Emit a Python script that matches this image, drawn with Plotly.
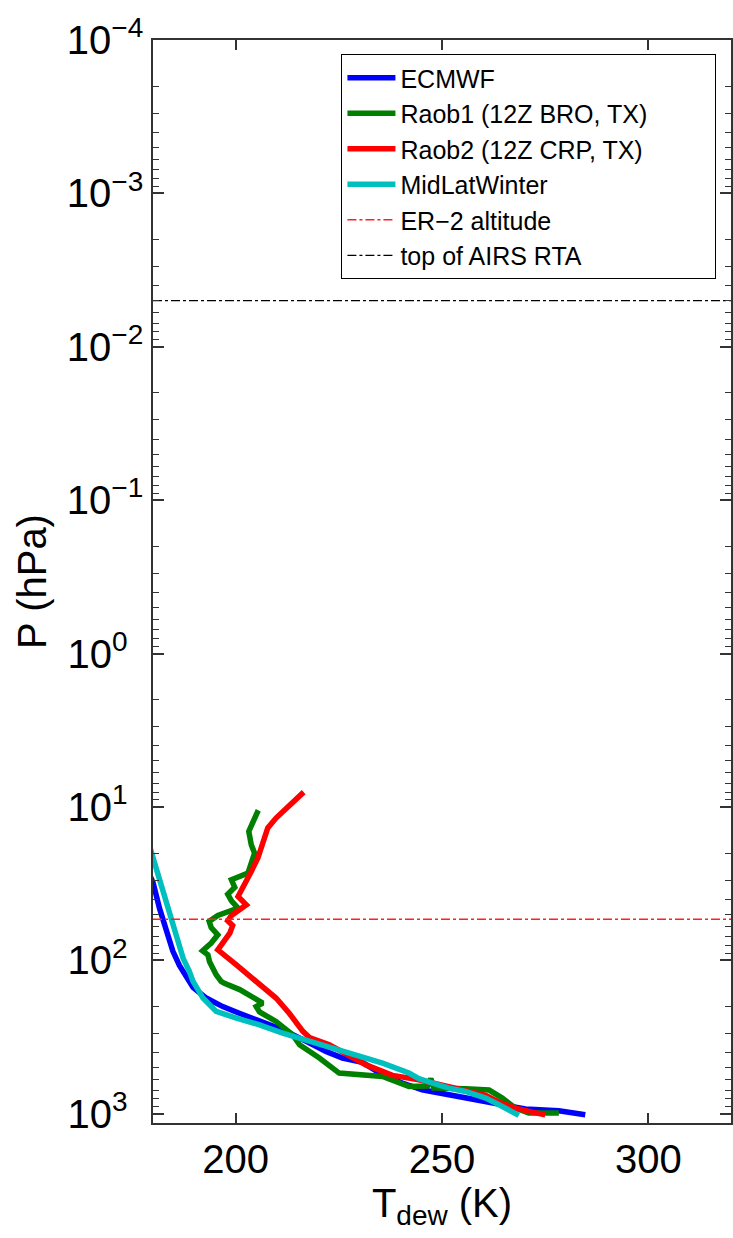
import plotly.graph_objects as go

# ---------------- data ----------------
ecmwf_T = [179.0, 180.0, 181.6, 183.2, 184.8, 186.4, 187.3, 189.7, 192.9, 196.9, 200.9, 205.8, 211.4,
           217.1, 221.9, 225.9, 230.7, 235.6, 240.4, 245.2, 250.1, 255.7, 260.6, 265.4, 270.2, 278.3, 284.7]
ecmwf_P = [27, 31, 46, 63, 87, 108, 118, 150, 176, 200, 221, 250, 283,
           337, 392, 433, 462, 556, 630, 697, 740, 790, 830, 895, 931, 955, 1013]

raob1_T = [205.5, 204.6, 203.2, 203.8, 204.6, 203.0, 199.0, 199.8, 198.1, 199.0, 200.6, 195.7, 193.6,
           194.1, 195.7, 194.1, 192.0, 193.3, 193.7, 195.3, 196.5, 197.3, 201.0, 203.4, 206.6, 205.0,
           205.8, 209.8, 213.8, 215.5, 220.3, 225.1, 235.6, 242.0, 246.5, 247.3, 248.0, 255.7, 261.4,
           264.6, 267.8, 271.0, 278.3]
raob1_P = [10.5, 11.8, 14.4, 17.6, 20.0, 27.0, 29.8, 33.4, 37.0, 40.9, 45.6, 50.9, 55.7,
           61.0, 68.1, 77.1, 86.5, 92, 102, 124, 137, 141, 155, 169, 190, 200,
           217, 250, 305, 355, 433, 543, 571, 663, 660, 590, 680, 687, 700,
           790, 918, 989, 989]

raob2_T = [216.5, 209.8, 207.8, 206.6, 205.4, 203.8, 202.6, 201.4, 200.6, 202.6, 200.2, 199.0, 198.1,
           199.3, 198.6, 197.3, 195.7, 200.2, 205.0, 209.8, 213.0, 216.3, 217.9, 222.7, 231.6, 238.0,
           244.4, 250.1, 255.7, 260.6, 263.8, 267.8, 271.8, 275.0]
raob2_P = [8.0, 11.8, 13.7, 17.6, 21.5, 26.3, 30.6, 35.5, 38.3, 43.4, 47.5, 50.9, 55.2,
           59.2, 66.4, 75.2, 85.3, 107, 137, 176, 221, 290, 318, 355, 480, 562,
           600, 653, 715, 759, 839, 918, 975, 1014]

mlw_T = [179.2, 181.6, 184.1, 186.4, 187.3, 188.8, 189.7, 192.1, 195.3, 200.2, 205.8, 211.4, 217.9,
         224.3, 229.1, 235.6, 242.0, 244.4, 248.5, 251.7, 255.7, 260.6, 263.8, 267.0, 268.6]
mlw_P = [18.1, 29.8, 53, 83, 97, 118, 137, 176, 215, 238, 263, 298, 337,
         383, 412, 467, 542, 590, 640, 680, 715, 790, 874, 964, 1024]

ER2_P = 54.0        # ER-2 altitude (hPa)
AIRS_TOP_P = 0.005  # top of AIRS RTA (hPa)

X_MIN, X_MAX = 180, 320
X_TICKS = [200, 250, 300]
Y_EXPS = [-4, -3, -2, -1, 0, 1, 2, 3]

SERIES_NAMES = ["ECMWF", "Raob1 (12Z BRO, TX)", "Raob2 (12Z CRP, TX)", "MidLatWinter",
                "ER\u22122 altitude", "top of AIRS RTA"]

# ---------------- figure ----------------
FONT = "Liberation Sans, Arial, Helvetica, sans-serif"
NB = "\u00a0"
fig = go.Figure()

LW = 5.5
fig.add_trace(go.Scatter(x=ecmwf_T, y=ecmwf_P, mode="lines", name=SERIES_NAMES[0],
                         line=dict(color="#0000FF", width=LW)))
fig.add_trace(go.Scatter(x=raob1_T, y=raob1_P, mode="lines", name=SERIES_NAMES[1] + NB * 9,
                         line=dict(color="#008000", width=LW)))
fig.add_trace(go.Scatter(x=raob2_T, y=raob2_P, mode="lines", name=SERIES_NAMES[2],
                         line=dict(color="#FF0000", width=LW)))
fig.add_trace(go.Scatter(x=mlw_T, y=mlw_P, mode="lines", name=SERIES_NAMES[3],
                         line=dict(color="#00BFBF", width=LW)))
fig.add_trace(go.Scatter(x=[X_MIN, X_MAX], y=[ER2_P, ER2_P], mode="lines", name=SERIES_NAMES[4],
                         line=dict(color="#FF2020", width=1.5, dash="dashdot")))
fig.add_trace(go.Scatter(x=[X_MIN, X_MAX], y=[AIRS_TOP_P, AIRS_TOP_P], mode="lines",
                         name=SERIES_NAMES[5],
                         line=dict(color="#000000", width=1.3, dash="dashdot")))

minor_vals = [m * 10 ** e for e in range(-5, 4) for m in range(2, 10)]


def ylab(e):
    if e < 0:
        return "10<sup>\u2212%d</sup>" % (-e)
    return "10<sup>%d%s</sup>" % (e, NB * 2)


fig.update_layout(
    width=733, height=1238,
    margin=dict(l=153, r=0, t=40, b=115),
    paper_bgcolor="white", plot_bgcolor="white",
    font=dict(family=FONT, color="black", size=40),
    showlegend=True,
    legend=dict(x=0.326, y=0.987, xanchor="left", yanchor="top",
                bgcolor="white", bordercolor="black", borderwidth=1,
                font=dict(family=FONT, size=25, color="black"),
                itemwidth=48, tracegroupgap=0),
    xaxis=dict(range=[X_MIN, X_MAX], tickmode="array", tickvals=X_TICKS,
               ticks="inside", ticklen=10, tickwidth=1.5, tickcolor="#333",
               showline=True, linecolor="#333", linewidth=1.5, mirror="ticks",
               showgrid=False, zeroline=False,
               tickfont=dict(size=40),
               title=dict(text="T<sub>dew</sub> (K)", font=dict(size=40), standoff=2)),
    yaxis=dict(type="log", range=[3.06, -4.0], tickmode="array",
               tickvals=[10 ** e for e in Y_EXPS],
               ticktext=[ylab(e) for e in Y_EXPS],
               ticks="inside", ticklen=11, tickwidth=1.5, tickcolor="#333",
               minor=dict(tickmode="array", tickvals=minor_vals, ticks="inside",
                          ticklen=6, tickwidth=1, tickcolor="#333", showgrid=False),
               showline=True, linecolor="#333", linewidth=1.5, mirror="ticks",
               showgrid=False, zeroline=False,
               tickfont=dict(size=40), ticklabelstandoff=0,
               title=dict(text="P (hPa)", font=dict(size=40), standoff=8)),
)

fig.write_html("out.html")
